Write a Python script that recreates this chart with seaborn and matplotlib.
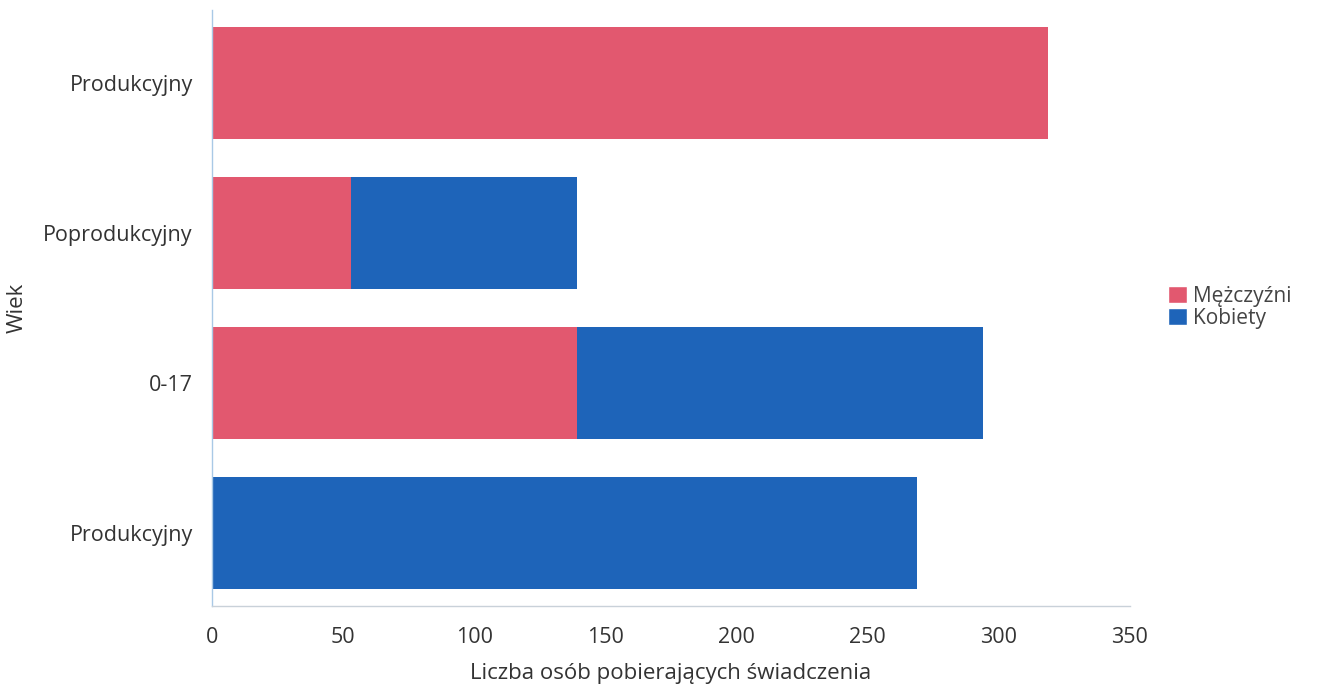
import seaborn as sns
import pandas as pd
import matplotlib.pyplot as plt
from matplotlib.patches import Patch

# values, top bar first
categories = ["Produkcyjny", "Poprodukcyjny", "0-17", "Produkcyjny"]
men = [319, 53, 139, 0]
women = [0, 86, 155, 269]
series_names = ["Mężczyźni", "Kobiety"]
x_ticks = [0, 50, 100, 150, 200, 250, 300, 350]

red = "#E2586F"
blue = "#1E64B9"

sns.set_style("white")
plt.rcParams['font.family'] = ['Open Sans', 'DejaVu Sans']

# unique keys so the two "Produkcyjny" rows stay apart
keys = [f"{c}_{i}" for i, c in enumerate(categories)]
df = pd.DataFrame({'key': keys, 'men': men, 'women': women})
df['total'] = df['men'] + df['women']

fig = plt.figure(figsize=(13.18, 6.92), dpi=100)
ax = fig.add_axes([0.161, 0.124, 0.696, 0.862])

# stacked: total in blue, men drawn over it in red
sns.barplot(data=df, y='key', x='total', color=blue, orient='h', width=0.75,
            saturation=1, ax=ax)
sns.barplot(data=df, y='key', x='men', color=red, orient='h', width=0.75,
            saturation=1, ax=ax)
for p in ax.patches:
    p.set_linewidth(0)

ax.set_yticks(range(len(categories)))
ax.set_yticklabels(categories)
ax.set_xticks(x_ticks)
ax.set_xlim(0, 350)
ax.set_ylim(3.49, -0.49)
ax.tick_params(axis='both', labelsize=15.5, colors='#333333', length=0)
ax.tick_params(axis='x', pad=15)
ax.tick_params(axis='y', pad=14)

ax.set_xlabel("Liczba osób pobierających świadczenia", fontsize=16, color='#333333', labelpad=11)
ax.set_ylabel("Wiek", fontsize=16, color='#333333')
ax.yaxis.set_label_coords(-0.201, 0.5)

for s in ['top', 'right']:
    ax.spines[s].set_visible(False)
ax.spines['left'].set_color('#A9C9E6')
ax.spines['bottom'].set_color('#C9D1D9')
ax.spines['left'].set_linewidth(1)
ax.spines['bottom'].set_linewidth(1)

handles = [Patch(facecolor=red, label=series_names[0]),
           Patch(facecolor=blue, label=series_names[1])]
fig.legend(handles=handles, loc='upper left', bbox_to_anchor=(0.872, 0.614),
           frameon=False, fontsize=15, handlelength=0.9, handleheight=0.9,
           handletextpad=0.3, labelspacing=0.05, labelcolor='#444444')

fig.savefig('out.png', dpi=100)
